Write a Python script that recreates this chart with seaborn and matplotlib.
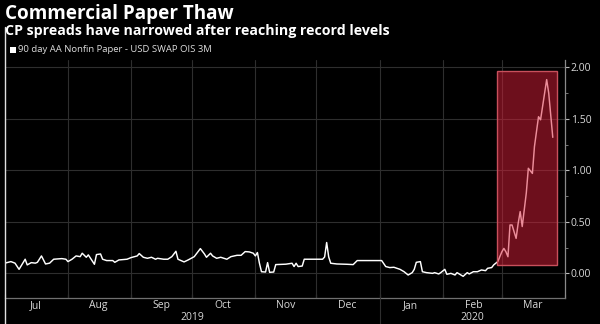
import matplotlib
matplotlib.use("Agg")
import matplotlib.pyplot as plt
import matplotlib.dates as mdates
from matplotlib.patches import Rectangle
from matplotlib.ticker import FixedLocator
import seaborn as sns
import pandas as pd

title = "Commercial Paper Thaw"
subtitle = "CP spreads have narrowed after reaching record levels"
series_name = "90 day AA Nonfin Paper - USD SWAP OIS 3M"

dates = [
    "2019-07-01", "2019-07-04", "2019-07-06", "2019-07-08", "2019-07-09", "2019-07-11", "2019-07-12",
    "2019-07-14", "2019-07-16", "2019-07-17", "2019-07-19", "2019-07-21", "2019-07-23", "2019-07-25",
    "2019-07-29", "2019-07-31", "2019-08-01", "2019-08-03", "2019-08-05", "2019-08-07", "2019-08-08",
    "2019-08-10", "2019-08-11", "2019-08-14", "2019-08-15", "2019-08-17", "2019-08-18", "2019-08-20",
    "2019-08-23", "2019-08-24", "2019-08-26", "2019-08-30", "2019-09-01", "2019-09-04", "2019-09-05",
    "2019-09-07", "2019-09-09", "2019-09-11", "2019-09-13", "2019-09-14", "2019-09-17", "2019-09-19",
    "2019-09-21", "2019-09-23", "2019-09-24", "2019-09-27", "2019-09-29", "2019-10-02", "2019-10-05",
    "2019-10-07", "2019-10-08", "2019-10-10", "2019-10-11", "2019-10-13", "2019-10-15", "2019-10-18",
    "2019-10-20", "2019-10-23", "2019-10-25", "2019-10-27", "2019-10-29", "2019-10-31", "2019-11-01",
    "2019-11-02", "2019-11-03", "2019-11-04", "2019-11-06", "2019-11-07", "2019-11-08", "2019-11-10",
    "2019-11-11", "2019-11-14", "2019-11-16", "2019-11-19", "2019-11-20", "2019-11-21", "2019-11-22",
    "2019-11-24", "2019-11-25", "2019-11-29", "2019-12-04", "2019-12-05", "2019-12-06", "2019-12-07",
    "2019-12-08", "2019-12-11", "2019-12-16", "2019-12-19", "2019-12-21", "2019-12-24", "2019-12-29",
    "2020-01-02", "2020-01-04", "2020-01-06", "2020-01-08", "2020-01-11", "2020-01-13", "2020-01-15",
    "2020-01-17", "2020-01-18", "2020-01-19", "2020-01-21", "2020-01-22", "2020-01-24", "2020-01-27",
    "2020-01-28", "2020-01-30", "2020-01-31", "2020-02-02", "2020-02-03", "2020-02-05", "2020-02-07",
    "2020-02-08", "2020-02-11", "2020-02-13", "2020-02-14", "2020-02-16", "2020-02-18", "2020-02-20",
    "2020-02-22", "2020-02-23", "2020-02-25", "2020-02-26", "2020-02-28", "2020-03-01", "2020-03-02",
    "2020-03-03", "2020-03-04", "2020-03-05", "2020-03-06", "2020-03-08", "2020-03-09", "2020-03-10",
    "2020-03-11", "2020-03-13", "2020-03-14", "2020-03-16", "2020-03-17", "2020-03-19", "2020-03-20",
    "2020-03-23", "2020-03-24", "2020-03-26",
]
values = [
    0.100, 0.115, 0.100, 0.040, 0.072, 0.138, 0.083,
    0.105, 0.100, 0.108, 0.170, 0.092, 0.100, 0.138,
    0.144, 0.138, 0.115, 0.138, 0.170, 0.163, 0.196,
    0.157, 0.180, 0.089, 0.183, 0.189, 0.138, 0.125,
    0.125, 0.108, 0.131, 0.138, 0.154, 0.170, 0.193,
    0.157, 0.147, 0.157, 0.138, 0.147, 0.138, 0.138,
    0.163, 0.215, 0.138, 0.112, 0.131, 0.163, 0.241,
    0.189, 0.157, 0.196, 0.170, 0.147, 0.157, 0.138,
    0.163, 0.176, 0.176, 0.212, 0.209, 0.196, 0.170,
    0.203, 0.099, 0.017, 0.014, 0.105, 0.011, 0.014,
    0.086, 0.089, 0.090, 0.099, 0.067, 0.099, 0.067,
    0.072, 0.138, 0.138, 0.138, 0.160, 0.300, 0.160,
    0.099, 0.092, 0.089, 0.086, 0.125, 0.125, 0.125,
    0.125, 0.067, 0.057, 0.060, 0.040, 0.017, -0.015,
    0.008, 0.040, 0.108, 0.115, 0.017, 0.008, 0.001,
    0.008, -0.005, 0.008, 0.040, -0.008, 0.001, -0.015,
    0.008, -0.028, 0.008, -0.005, 0.017, 0.017, 0.034,
    0.027, 0.050, 0.057, 0.083, 0.115, 0.210, 0.243,
    0.210, 0.162, 0.470, 0.470, 0.340, 0.485, 0.600,
    0.455, 0.780, 1.020, 0.970, 1.230, 1.520, 1.490,
    1.880, 1.750, 1.320,
]
year_labels = ["2019", "2020"]
highlight_start, highlight_end = "2020-02-27 12:00", "2020-03-28"
highlight_low, highlight_high = 0.085, 1.96

df = pd.DataFrame({"date": pd.to_datetime(dates), "value": values})

sns.set_theme(style="dark")
plt.rcParams["font.family"] = ["Open Sans", "DejaVu Sans"]

GRID = "#2e2e2e"
fig = plt.figure(figsize=(6, 3.24), dpi=100, facecolor="black")
ax = fig.add_axes([4.8 / 600, 1 - 298 / 324, (565 - 4.8) / 600, (298 - 60) / 324])
ax.set_facecolor("black")

x0 = pd.Timestamp("2019-07-01")
x1 = pd.Timestamp("2020-04-01")
ax.set_xlim(x0, x1)
ax.set_ylim(-0.238, 2.07)

for v in [0, 0.5, 1.0, 1.5, 2.0]:
    ax.axhline(v, color=GRID, lw=0.8, zorder=1)
for m in pd.date_range("2019-08-01", "2020-03-01", freq="MS"):
    ax.axvline(m, color=GRID, lw=0.8, zorder=1)

sns.lineplot(data=df, x="date", y="value", ax=ax, color="white", lw=1.05, zorder=3, legend=False)

rx0 = mdates.date2num(pd.Timestamp(highlight_start))
rx1 = mdates.date2num(pd.Timestamp(highlight_end))
ax.add_patch(Rectangle((rx0, highlight_low), rx1 - rx0, highlight_high - highlight_low,
                       facecolor=(0.86, 0.12, 0.22, 0.5), edgecolor="#c8505c", lw=1.0, zorder=4))

for s in ["top", "left"]:
    ax.spines[s].set_visible(False)
ax.spines["bottom"].set_color("#707070")
ax.spines["bottom"].set_linewidth(0.9)
ax.spines["right"].set_color("#8a8a8a")
ax.spines["right"].set_linewidth(0.9)

ax.set_xlabel("")
ax.set_ylabel("")
ax.yaxis.tick_right()
ax.yaxis.set_major_locator(FixedLocator([0, 0.5, 1.0, 1.5, 2.0]))
ax.yaxis.set_minor_locator(FixedLocator([0.25, 0.75, 1.25, 1.75]))
ax.yaxis.set_major_formatter(matplotlib.ticker.FormatStrFormatter("%.2f"))
ax.tick_params(axis="y", which="major", right=True, direction="out", length=3, width=0.8,
               color="#bbbbbb", labelcolor="#d8d8d8", labelsize=7.5, pad=1)
ax.tick_params(axis="y", which="minor", right=True, direction="out", length=2, width=0.6,
               color="#888888")

ax.xaxis.set_major_locator(mdates.MonthLocator())
ax.xaxis.set_major_formatter(matplotlib.ticker.NullFormatter())
ax.xaxis.set_minor_locator(mdates.MonthLocator(bymonthday=16))
ax.xaxis.set_minor_formatter(mdates.DateFormatter("%b"))
ax.tick_params(axis="x", which="major", bottom=True, direction="in", length=3, width=0.8, color="#888888")
ax.tick_params(axis="x", which="minor", bottom=False, length=0, labelcolor="#d8d8d8",
               labelsize=7.5, pad=1.5)

yt = 1 - 317 / 324
fig.text((5 + 380) / 2 / 600, yt, year_labels[0], color="#d8d8d8", fontsize=7.5, ha="center", va="center")
fig.text((380 + 565) / 2 / 600, yt, year_labels[1], color="#d8d8d8", fontsize=7.5, ha="center", va="center")

fig.add_artist(plt.Line2D([380 / 600, 380 / 600], [0, 1 - 298 / 324], color=GRID, lw=0.8))
fig.add_artist(plt.Line2D([5 / 600, 5 / 600], [0, 1 - 27 / 324], color="#e0e0e0", lw=1.0))

fig.text(5 / 600, 1 - 14 / 324, title, color="white", fontsize=13.6, fontweight="bold", ha="left", va="center")
fig.text(5 / 600, 1 - 31.5 / 324, subtitle, color="white", fontsize=10.15, fontweight="bold", ha="left", va="center")

fig.add_artist(Rectangle((10 / 600, 1 - 53 / 324), 6 / 600, 6 / 324, transform=fig.transFigure,
                         facecolor="white", edgecolor="none"))
fig.text(18 / 600, 1 - 50 / 324, series_name, color="#dddddd", fontsize=6.8, ha="left", va="center")

fig.savefig("out.png", dpi=100, facecolor="black")
